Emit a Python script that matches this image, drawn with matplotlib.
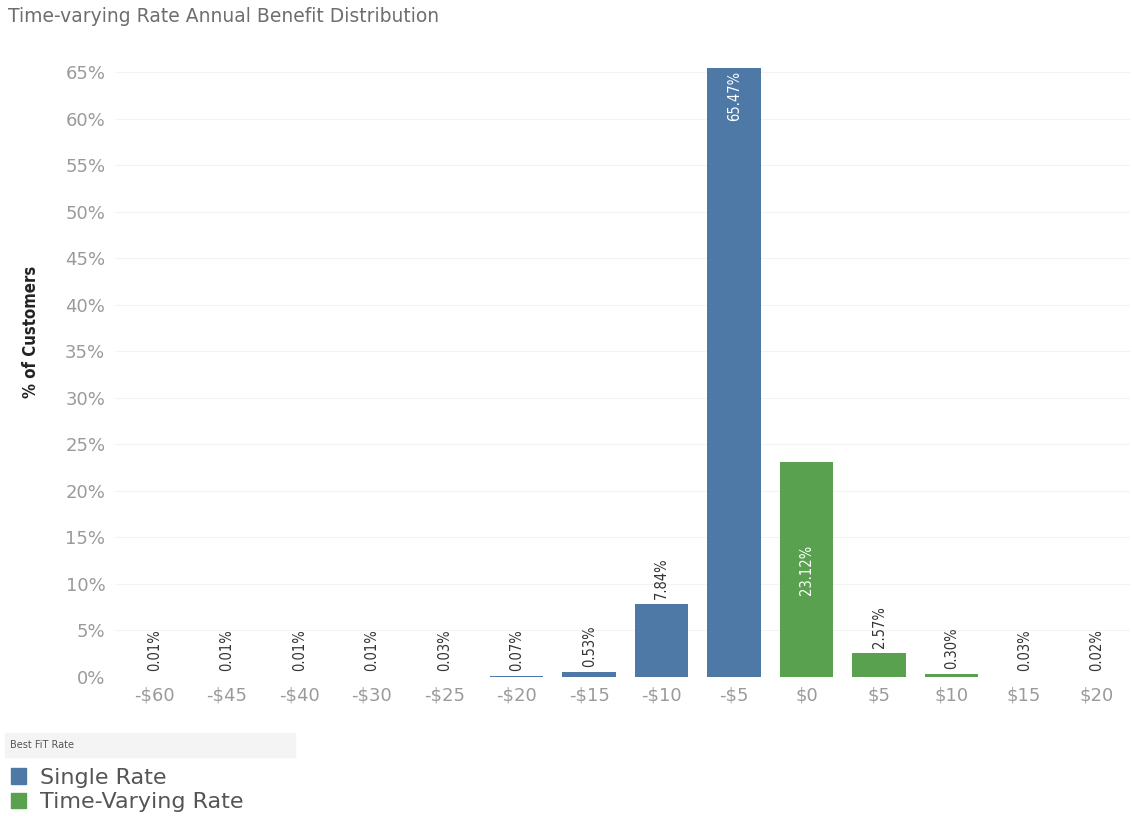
import numpy as np
import matplotlib.pyplot as plt
from matplotlib.patches import Rectangle, Patch

# Data
categories = ["-$60", "-$45", "-$40", "-$30", "-$25", "-$20", "-$15",
              "-$10", "-$5", "$0", "$5", "$10", "$15", "$20"]
pct_customers = [0.01, 0.01, 0.01, 0.01, 0.03, 0.07, 0.53,
                 7.84, 65.47, 23.12, 2.57, 0.30, 0.03, 0.02]
best_rate = ["Single Rate"] * 9 + ["Time-Varying Rate"] * 5
yticks = list(range(0, 70, 5))

COLORS = {"Single Rate": "#4e79a7", "Time-Varying Rate": "#59a14f"}
TICK_GREY = "#9a9a9a"
NARROW = dict(family="DejaVu Sans", stretch="condensed")

W, H = 1134, 816
fig = plt.figure(figsize=(W / 100, H / 100), dpi=100)
ax = fig.add_axes([115 / W, (H - 677) / H, (1130 - 115) / W, (677 - 50) / H])

x = np.arange(len(categories))
colors = [COLORS[r] for r in best_rate]
ax.bar(x, pct_customers, width=0.74, color=colors, zorder=2)

# value labels: inside the two large bars, above the rest
for xi, v in zip(x, pct_customers):
    txt = f"{v:.2f}%"
    if v > 60:
        ax.annotate(txt, (xi, v), xytext=(0, -2), textcoords="offset points",
                    rotation=90, ha="center", va="top", color="white",
                    fontsize=10.5, **NARROW)
    elif v > 20:
        ax.text(xi, v / 2, txt, rotation=90, ha="center", va="center",
                color="white", fontsize=10.5, **NARROW)
    else:
        ax.annotate(txt, (xi, v), xytext=(0, 4), textcoords="offset points",
                    rotation=90, ha="center", va="bottom", color="#333333",
                    fontsize=10.5, **NARROW)

ax.set_xlim(-0.54, 13.46)
ax.set_ylim(0, 67.4)
ax.set_xticks(x)
ax.set_xticklabels(categories)
ax.set_yticks(yticks)
ax.set_yticklabels([f"{t}%" for t in yticks])
ax.tick_params(axis="both", length=0, colors=TICK_GREY, labelsize=13)
ax.tick_params(axis="x", pad=7)
ax.tick_params(axis="y", pad=7)
ax.grid(axis="y", color="#f3f3f3", linewidth=0.8, zorder=0)
for s in ax.spines.values():
    s.set_visible(False)

ax.set_ylabel("% of Customers", fontsize=12, fontweight="bold",
              color="#222222", **NARROW)
ax.yaxis.set_label_coords(-0.074, 0.55)

fig.text(8 / W, 1 - 17 / H, "Time-varying Rate Annual Benefit Distribution",
         fontsize=13.5, color="#6e6e6e", va="center", ha="left")

# legend block
fig.patches.append(Rectangle((5 / W, (H - 757) / H), 290 / W, 24 / H,
                             transform=fig.transFigure, color="#f4f4f4",
                             zorder=0))
fig.text(10 / W, 1 - 745 / H, "Best FiT Rate", fontsize=7, color="#555555",
         va="center", ha="left")
handles = [Patch(color=COLORS[k]) for k in COLORS]
fig.legend(handles, list(COLORS), loc="upper left",
           bbox_to_anchor=(2 / W, 1 - 759 / H), frameon=False, fontsize=16,
           handlelength=0.7, handleheight=0.7, handletextpad=0.6,
           labelspacing=0.2, borderaxespad=0, labelcolor="#555555")

fig.savefig("out.png", dpi=100)
